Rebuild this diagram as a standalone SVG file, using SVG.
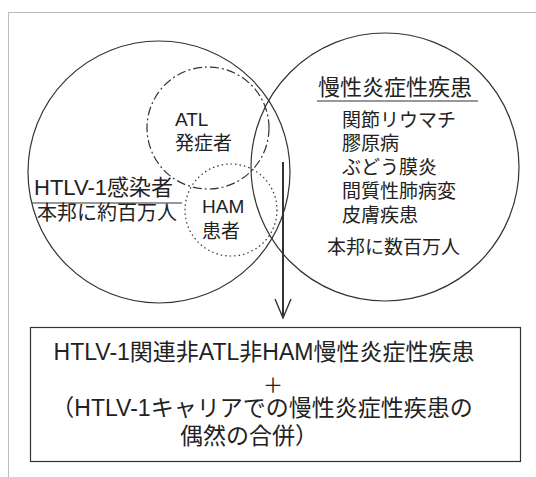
<svg xmlns="http://www.w3.org/2000/svg" width="536" height="477" viewBox="0 0 536 477">
<defs>
<style>
.t{font-family:"Liberation Sans","Noto Sans CJK JP",sans-serif;fill:#222;}
.c{fill:none;stroke:#333;stroke-width:1.2;}
.ul{stroke:#333;stroke-width:1.2;}
.ln{fill:none;stroke:#333;}
</style>
</defs>
<rect x="0" y="0" width="536" height="477" fill="#fff"/>
<rect x="8.5" y="12.5" width="540" height="480" fill="none" stroke="#bbb" stroke-width="1"/>
<g id="htlv">
<circle class="c" cx="159" cy="172" r="131"/>
<text class="t" x="34" y="195" font-size="22">HTLV-1感染者</text>
<line class="ul" x1="32" y1="203" x2="182" y2="203"/>
<text class="t" x="37" y="220" font-size="20">本邦に約百万人</text>
</g>
<g id="chronic">
<circle class="c" cx="385" cy="167" r="134"/>
<text class="t" x="318" y="95" font-size="22">慢性炎症性疾患</text>
<line class="ul" x1="317" y1="101" x2="478" y2="101"/>
<text class="t" x="342" y="127" font-size="19">関節リウマチ</text>
<text class="t" x="342" y="150" font-size="19">膠原病</text>
<text class="t" x="342" y="174" font-size="19">ぶどう膜炎</text>
<text class="t" x="342" y="198" font-size="19">間質性肺病変</text>
<text class="t" x="342" y="222" font-size="19">皮膚疾患</text>
<text class="t" x="327" y="254" font-size="19">本邦に数百万人</text>
</g>
<g id="atl">
<circle class="c" cx="208" cy="128" r="61" stroke-dasharray="9 3 2 3"/>
<text class="t" x="175" y="126" font-size="19">ATL</text>
<text class="t" x="175" y="150" font-size="19">発症者</text>
</g>
<g id="ham">
<circle class="c" cx="231" cy="210" r="46" stroke-dasharray="1.5 3" stroke-width="1.6"/>
<text class="t" x="202" y="213" font-size="19">HAM</text>
<text class="t" x="202" y="238" font-size="19">患者</text>
</g>
<g id="connectors">
<line class="ln" x1="283" y1="162" x2="283" y2="317" stroke-width="2"/>
<polyline class="ln" points="275,299 283,318 291,299" stroke-width="1.4"/>
</g>
<g id="result">
<rect x="30.5" y="327.5" width="490" height="134" fill="none" stroke="#333" stroke-width="1.2"/>
<text class="t" x="264" y="360" font-size="23" text-anchor="middle">HTLV-1関連非ATL非HAM慢性炎症性疾患</text>
<text class="t" x="273" y="393" font-size="20" text-anchor="middle">＋</text>
<text class="t" x="262" y="416" font-size="23" text-anchor="middle">（HTLV-1キャリアでの慢性炎症性疾患の</text>
<text class="t" x="249" y="444" font-size="23" text-anchor="middle">偶然の合併）</text>
</g>
</svg>
